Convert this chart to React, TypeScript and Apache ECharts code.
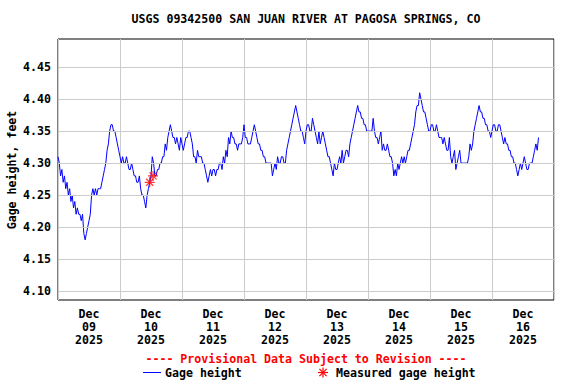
import React, { useEffect, useRef } from 'react';
import * as echarts from 'echarts';

const FONT = '"DejaVu Sans Mono", "Liberation Mono", monospace';
const FS = 11.6;

const titleText = 'USGS 09342500 SAN JUAN RIVER AT PAGOSA SPRINGS, CO';
const yAxisTitle = 'Gage height, feet';
const provisionalText = '---- Provisional Data Subject to Revision ----';
const legendLine = 'Gage height';
const legendMeasured = 'Measured gage height';

// Half-hourly gage height readings (feet), starting Dec 09 2025 00:00
const day09 = [
  4.31, 4.30, 4.28, 4.29, 4.27, 4.28, 4.26, 4.27, 4.25, 4.26, 4.24, 4.25,
  4.23, 4.24, 4.22, 4.23, 4.22, 4.22, 4.21, 4.22, 4.19, 4.18, 4.19, 4.20,
  4.21, 4.22, 4.25, 4.26, 4.25, 4.26, 4.25, 4.26, 4.26, 4.26, 4.27, 4.28,
  4.29, 4.30, 4.32, 4.33, 4.35, 4.36, 4.36, 4.35, 4.35, 4.34, 4.33, 4.32,
];
const day10 = [
  4.31, 4.30, 4.31, 4.30, 4.30, 4.31, 4.30, 4.29, 4.29, 4.30, 4.29, 4.28,
  4.28, 4.27, 4.27, 4.28, 4.26, 4.25, 4.25, 4.24, 4.23, 4.25, 4.26, 4.27,
  4.28, 4.31, 4.30, 4.28, 4.28, 4.29, 4.29, 4.30, 4.30, 4.31, 4.31, 4.33,
  4.32, 4.34, 4.35, 4.36, 4.35, 4.34, 4.34, 4.33, 4.34, 4.33, 4.32, 4.34,
];
const day11 = [
  4.33, 4.32, 4.33, 4.34, 4.34, 4.35, 4.35, 4.34, 4.33, 4.31, 4.31, 4.30,
  4.32, 4.31, 4.31, 4.31, 4.30, 4.30, 4.29, 4.28, 4.27, 4.28, 4.29, 4.28,
  4.29, 4.29, 4.28, 4.29, 4.29, 4.30, 4.30, 4.29, 4.31, 4.30, 4.32, 4.31,
  4.34, 4.33, 4.35, 4.34, 4.34, 4.33, 4.33, 4.32, 4.33, 4.33, 4.33, 4.34,
];
const day12 = [
  4.36, 4.34, 4.34, 4.33, 4.33, 4.33, 4.34, 4.35, 4.36, 4.35, 4.34, 4.33,
  4.33, 4.32, 4.32, 4.31, 4.31, 4.30, 4.30, 4.30, 4.30, 4.30, 4.28, 4.29,
  4.30, 4.29, 4.31, 4.30, 4.30, 4.31, 4.31, 4.30, 4.30, 4.32, 4.33, 4.34,
  4.35, 4.36, 4.37, 4.38, 4.39, 4.38, 4.37, 4.36, 4.35, 4.35, 4.34, 4.33,
];
const day13 = [
  4.35, 4.36, 4.36, 4.35, 4.35, 4.37, 4.36, 4.35, 4.34, 4.33, 4.35, 4.33,
  4.34, 4.35, 4.34, 4.33, 4.32, 4.31, 4.31, 4.30, 4.29, 4.28, 4.30, 4.29,
  4.29, 4.30, 4.31, 4.30, 4.32, 4.30, 4.31, 4.32, 4.32, 4.31, 4.33, 4.34,
  4.35, 4.36, 4.37, 4.38, 4.39, 4.38, 4.38, 4.37, 4.37, 4.36, 4.36, 4.35,
];
const day14 = [
  4.35, 4.35, 4.35, 4.35, 4.37, 4.35, 4.34, 4.34, 4.33, 4.34, 4.35, 4.32,
  4.33, 4.32, 4.32, 4.33, 4.32, 4.31, 4.31, 4.30, 4.28, 4.29, 4.28, 4.30,
  4.29, 4.30, 4.31, 4.30, 4.31, 4.30, 4.31, 4.32, 4.32, 4.33, 4.34, 4.35,
  4.36, 4.38, 4.39, 4.39, 4.41, 4.40, 4.39, 4.38, 4.38, 4.37, 4.36, 4.35,
];
const day15 = [
  4.35, 4.36, 4.36, 4.35, 4.35, 4.36, 4.35, 4.34, 4.34, 4.34, 4.33, 4.34,
  4.33, 4.32, 4.32, 4.34, 4.31, 4.30, 4.31, 4.32, 4.29, 4.30, 4.31, 4.32,
  4.30, 4.30, 4.30, 4.30, 4.30, 4.30, 4.31, 4.33, 4.32, 4.33, 4.35, 4.36,
  4.37, 4.38, 4.39, 4.38, 4.38, 4.37, 4.37, 4.36, 4.36, 4.35, 4.35, 4.34,
];
const day16 = [
  4.35, 4.36, 4.36, 4.35, 4.35, 4.36, 4.36, 4.35, 4.34, 4.33, 4.34, 4.33,
  4.33, 4.32, 4.32, 4.31, 4.31, 4.30, 4.30, 4.29, 4.28, 4.29, 4.30, 4.29,
  4.30, 4.31, 4.30, 4.29, 4.29, 4.30, 4.30, 4.30, 4.31, 4.32, 4.33, 4.32,
  4.34,
];

// Field measurements: hours since Dec 09 00:00 and gage height
const measuredHours = [35.5, 36.8];
const measuredValues = [4.27, 4.28];

const yTickValues = [4.1, 4.15, 4.2, 4.25, 4.3, 4.35, 4.4, 4.45];
const dayNumbers = ['09', '10', '11', '12', '13', '14', '15', '16'];
const monthLabel = 'Dec';
const yearLabel = '2025';

const STEP_HOURS = 0.5;
const asteriskPath = 'path://M5,0L5,10M0,5L10,5M1.5,1.5L8.5,8.5M1.5,8.5L8.5,1.5';

export default function App() {
  const ref = useRef<HTMLDivElement>(null);

  useEffect(() => {
    if (!ref.current) return;
    const chart = echarts.init(ref.current, null, { renderer: 'svg' });

    const values = [...day09, ...day10, ...day11, ...day12, ...day13, ...day14, ...day15, ...day16];
    const lineData = values.map((v, i) => [i * STEP_HOURS, v]);
    const measuredData = measuredHours.map((h, i) => [h, measuredValues[i]]);
    const labelHours = dayNumbers.map((_, i) => 12 + 24 * i);

    const textBase = { fontFamily: FONT, fontSize: FS, fontWeight: 'bold' as const };

    const ax = 323, ay = 372.5, ar = 5, ad = 3.6;
    const asteriskLines = [
      [ax - ar, ay, ax + ar, ay],
      [ax, ay - ar, ax, ay + ar],
      [ax - ad, ay - ad, ax + ad, ay + ad],
      [ax - ad, ay + ad, ax + ad, ay - ad],
    ].map((c) => ({
      type: 'line',
      shape: { x1: c[0], y1: c[1], x2: c[2], y2: c[3] },
      style: { stroke: '#ff0000', lineWidth: 1.2 },
    }));

    chart.setOption({
      animation: false,
      backgroundColor: '#ffffff',
      grid: {
        left: 58,
        top: 39,
        width: 496,
        height: 261,
        show: true,
        borderColor: '#000000',
        borderWidth: 1,
        backgroundColor: 'transparent',
      },
      xAxis: {
        type: 'value',
        min: 0,
        max: 192,
        interval: 24,
        axisLine: { show: false },
        axisTick: { show: false },
        splitLine: { show: true, lineStyle: { color: '#cccccc', width: 1 } },
        axisLabel: {
          show: true,
          customValues: labelHours,
          margin: 7,
          ...textBase,
          color: '#000000',
          lineHeight: 13.3,
          formatter: (v: number) => {
            const idx = Math.round((v - 12) / 24);
            if (idx < 0 || idx >= dayNumbers.length) return '';
            return `${monthLabel}\n${dayNumbers[idx]}\n${yearLabel}`;
          },
        },
      },
      yAxis: {
        type: 'value',
        min: 4.086,
        max: 4.494,
        axisLine: { show: false },
        axisTick: { show: false },
        splitLine: { show: false },
        axisLabel: {
          show: true,
          customValues: yTickValues,
          margin: 7,
          ...textBase,
          color: '#000000',
          formatter: (v: number) => v.toFixed(2),
        },
      },
      series: [
        {
          type: 'line',
          data: [[0, 4.3]],
          symbol: 'none',
          lineStyle: { width: 0, opacity: 0 },
          silent: true,
          z: 1,
          markLine: {
            silent: true,
            symbol: ['none', 'none'],
            label: { show: false },
            lineStyle: { color: '#cccccc', type: 'solid', width: 1 },
            emphasis: { disabled: true },
            data: yTickValues.map((v) => ({ yAxis: v })),
          },
        },
        {
          type: 'line',
          data: lineData,
          symbol: 'none',
          lineStyle: { color: '#0000ff', width: 1 },
          z: 3,
          silent: true,
        },
        {
          type: 'scatter',
          data: measuredData,
          symbol: asteriskPath,
          symbolSize: 10,
          itemStyle: { color: 'none', borderColor: '#ff0000', borderWidth: 1.2 },
          z: 4,
          silent: true,
        },
      ],
      graphic: [
        {
          type: 'text',
          x: 306,
          y: 19,
          style: { text: titleText, ...textBase, fill: '#000000', align: 'center', verticalAlign: 'middle' },
        },
        {
          type: 'text',
          x: 12,
          y: 170,
          rotation: Math.PI / 2,
          style: { text: yAxisTitle, ...textBase, fill: '#000000', align: 'center', verticalAlign: 'middle' },
        },
        {
          type: 'text',
          x: 306,
          y: 358.5,
          style: { text: provisionalText, ...textBase, fill: '#ff0000', align: 'center', verticalAlign: 'middle' },
        },
        {
          type: 'line',
          shape: { x1: 143, y1: 372.5, x2: 161, y2: 372.5 },
          style: { stroke: '#0000ff', lineWidth: 1 },
        },
        {
          type: 'text',
          x: 165,
          y: 372.5,
          style: { text: legendLine, ...textBase, fill: '#000000', align: 'left', verticalAlign: 'middle' },
        },
        ...asteriskLines,
        {
          type: 'text',
          x: 336,
          y: 372.5,
          style: { text: legendMeasured, ...textBase, fill: '#000000', align: 'left', verticalAlign: 'middle' },
        },
      ],
    });

    return () => chart.dispose();
  }, []);

  return <div ref={ref} style={{ position: 'absolute', left: 0, top: 0, width: 576, height: 384 }} />;
}
